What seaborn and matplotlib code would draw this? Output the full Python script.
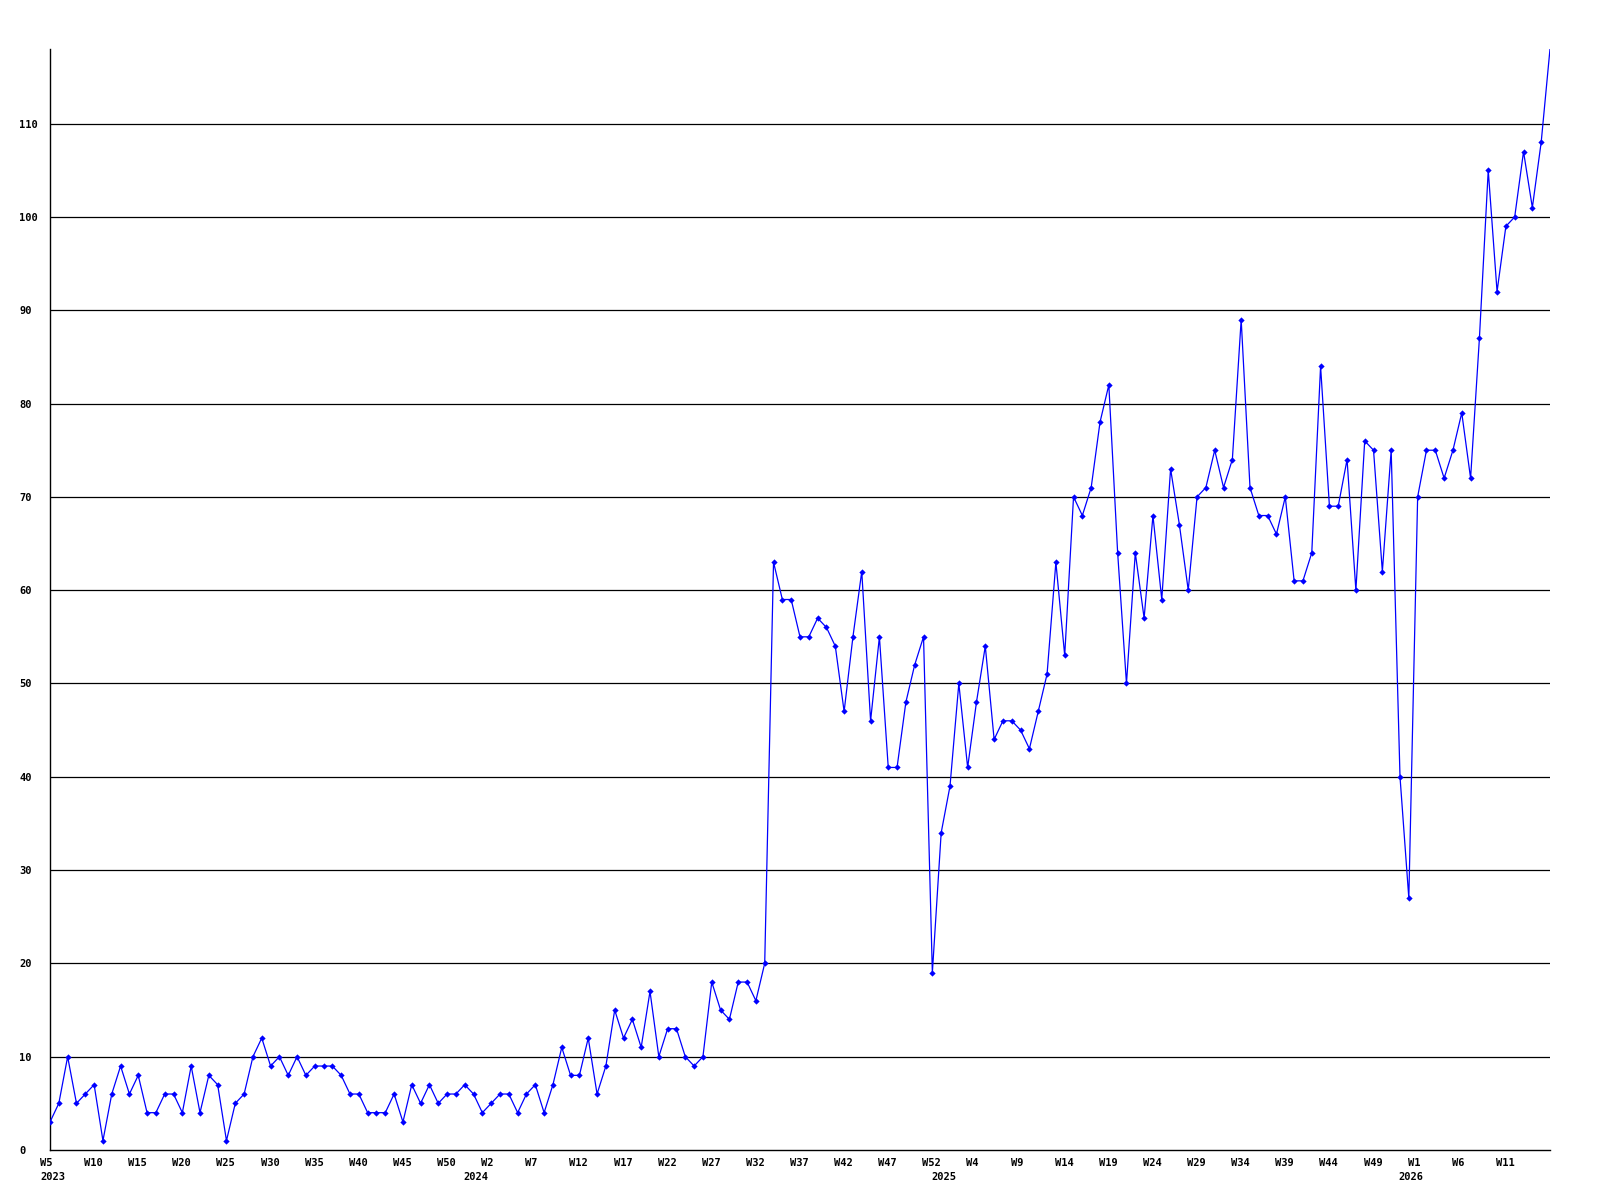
"""
Weekly count chart, 2023 W5 - 2026 W15, recreated with seaborn.
"""

import matplotlib
matplotlib.use("Agg")
import matplotlib.pyplot as plt
import matplotlib.transforms as mtransforms
import seaborn as sns
import pandas as pd

# ── Data ──────────────────────────────────────────────────────────────────────
VALUES_2023 = [3, 5, 10, 5, 6, 7, 1, 6, 9, 6, 8, 4, 4, 6, 6, 4, 9, 4, 8, 7,
               1, 5, 6, 10, 12, 9, 10, 8, 10, 8, 9, 9, 9, 8, 6, 6, 4, 4, 4, 6,
               3, 7, 5, 7, 5, 6, 6, 7]
VALUES_2024 = [6, 4, 5, 6, 6, 4, 6, 7, 4, 7, 11, 8, 8, 12, 6, 9, 15, 12, 14, 11,
               17, 10, 13, 13, 10, 9, 10, 18, 15, 14, 18, 18, 16, 20, 63, 59, 59,
               55, 55, 57, 56, 54, 47, 55, 62, 46, 55, 41, 41, 48, 52, 55, 19]
VALUES_2025 = [34, 39, 50, 41, 48, 54, 44, 46, 46, 45, 43, 47, 51, 63, 53, 70,
               68, 71, 78, 82, 64, 50, 64, 57, 68, 59, 73, 67, 60, 70, 71, 75,
               71, 74, 89, 71, 68, 68, 66, 70, 61, 61, 64, 84, 69, 69, 74, 60,
               76, 75, 62, 75, 40]
VALUES_2026 = [27, 70, 75, 75, 72, 75, 79, 72, 87, 105, 92, 99, 100, 107, 101,
               108, 118]

WEEK_LABELS = ["W5", "W10", "W15", "W20", "W25", "W30", "W35", "W40", "W45",
               "W50", "W2", "W7", "W12", "W17", "W22", "W27", "W32", "W37",
               "W42", "W47", "W52", "W4", "W9", "W14", "W19", "W24", "W29",
               "W34", "W39", "W44", "W49", "W1", "W6", "W11"]
YEAR_LABELS = ["2023", "2024", "2025", "2026"]
Y_TICKS = [0, 10, 20, 30, 40, 50, 60, 70, 80, 90, 100, 110]

values = VALUES_2023 + VALUES_2024 + VALUES_2025 + VALUES_2026
year_starts = [0, len(VALUES_2023),
               len(VALUES_2023) + len(VALUES_2024),
               len(VALUES_2023) + len(VALUES_2024) + len(VALUES_2025)]
df = pd.DataFrame({"week": range(len(values)), "count": values})

# ── Style ─────────────────────────────────────────────────────────────────────
BLUE = "#0000FF"
sns.set_theme(style="white")
plt.rcParams.update({
    "font.family": ["DejaVu Sans Mono"],
    "font.weight": "bold",
    "text.color": "black",
    "xtick.color": "black",
    "ytick.color": "black",
    "axes.edgecolor": "black",
    "axes.linewidth": 1.0,
})

fig = plt.figure(figsize=(16, 12), dpi=100, facecolor="white")
ax = fig.add_axes([50 / 1600, 50 / 1200, 1500 / 1600, 1101 / 1200])

for y in Y_TICKS[1:]:
    ax.axhline(y, color="black", linewidth=0.9, zorder=1)

# the last week runs off the top of the plot, so no marker is shown for it
sns.lineplot(data=df, x="week", y="count", ax=ax, color=BLUE,
             linewidth=0.9, marker="D", markersize=3.2,
             markeredgewidth=0, markerfacecolor=BLUE, zorder=3,
             markevery=list(range(len(values) - 1)))

ax.set_xlim(0, len(values) - 1)
ax.set_ylim(0, 118)
ax.set_xlabel("")
ax.set_ylabel("")
for side in ("top", "right"):
    ax.spines[side].set_visible(False)

# x ticks every 5 weeks, labels start ~10px left of the tick
ax.set_xticks(range(0, 5 * len(WEEK_LABELS), 5))
ax.set_xticklabels(WEEK_LABELS, fontsize=7.5, fontweight="bold", color="black")
ax.tick_params(axis="x", length=0, pad=5.5)
shift = mtransforms.ScaledTranslation(-10 / 100, 0, fig.dpi_scale_trans)
for lab in ax.get_xticklabels():
    lab.set_horizontalalignment("left")
    lab.set_transform(lab.get_transform() + shift)

# year labels under the first week of each year
ytrans = mtransforms.blended_transform_factory(ax.transData, ax.transAxes)
down = mtransforms.ScaledTranslation(-10 / 100, -22 / 100, fig.dpi_scale_trans)
for pos, yr in zip(year_starts, YEAR_LABELS):
    ax.text(pos, 0, yr, transform=ytrans + down, ha="left", va="top",
            fontsize=7.5, fontweight="bold", color="black")

ax.set_yticks(Y_TICKS)
ax.set_yticklabels([str(v) for v in Y_TICKS], fontsize=7.5, fontweight="bold",
                   color="black")
ax.tick_params(axis="y", length=0, pad=22)
for lab in ax.get_yticklabels():
    lab.set_horizontalalignment("left")

fig.savefig("out.png", dpi=100, facecolor="white")
